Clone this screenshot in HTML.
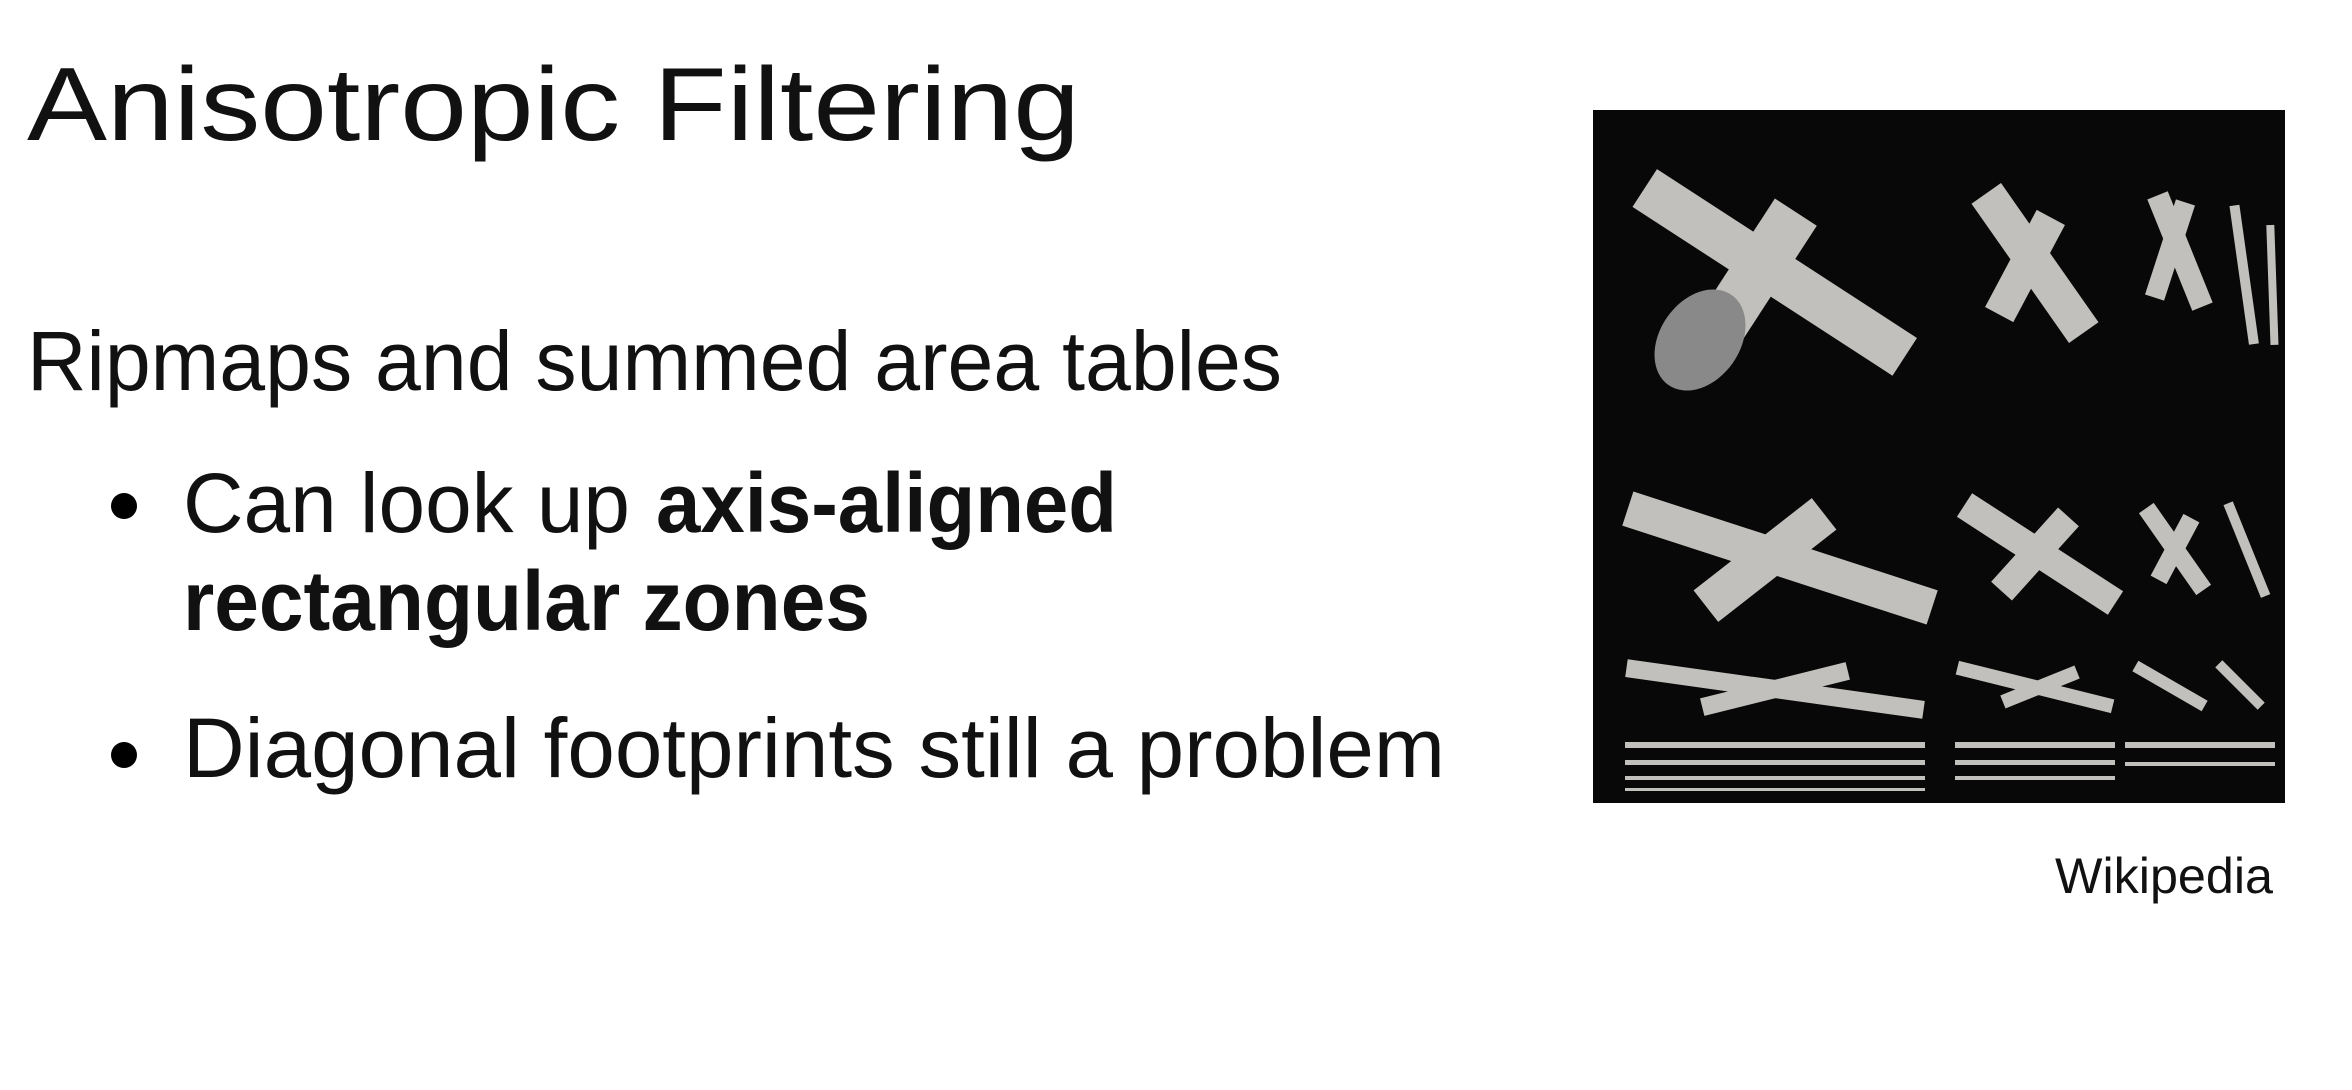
<!DOCTYPE html>
<html><head><meta charset="utf-8"><style>
html,body{margin:0;padding:0;background:#fff;}
svg{display:block;}
text{font-family:"Liberation Sans",sans-serif;fill:#111;}
</style></head><body>
<svg width="2352" height="1090" viewBox="0 0 2352 1090">
<text x="27" y="140" font-size="104" textLength="1053" lengthAdjust="spacingAndGlyphs">Anisotropic Filtering</text>
<text x="27" y="390" font-size="84" textLength="1255" lengthAdjust="spacingAndGlyphs">Ripmaps and summed area tables</text>
<circle cx="124" cy="506" r="13" fill="#000"/>
<text x="183" y="532" font-size="84" textLength="447" lengthAdjust="spacingAndGlyphs">Can look up</text>
<text x="656" y="532" font-size="84" font-weight="bold" textLength="461" lengthAdjust="spacingAndGlyphs">axis-aligned</text>
<text x="183" y="630" font-size="84" font-weight="bold" textLength="687" lengthAdjust="spacingAndGlyphs">rectangular zones</text>
<circle cx="124" cy="755" r="13" fill="#000"/>
<text x="183" y="777" font-size="84" textLength="1262" lengthAdjust="spacingAndGlyphs">Diagonal footprints still a problem</text>
<g>
<rect x="1593" y="110" width="692" height="693" fill="#080808"/>
<g fill="#d8d6d2" opacity="0.9">
<rect x="1620" y="250" width="310" height="45" transform="rotate(33 1775 272)"/>
<rect x="1680" y="250" width="150" height="50" transform="rotate(-57 1755 275)"/>
<ellipse cx="1700" cy="340" rx="40" ry="55" transform="rotate(35 1700 340)" fill="#999"/>
<rect x="1950" y="245" width="170" height="36" transform="rotate(55 2035 263)"/>
<rect x="1970" y="250" width="110" height="32" transform="rotate(-62 2025 266)"/>
<rect x="2120" y="240" width="120" height="22" transform="rotate(68 2180 251)"/>
<rect x="2120" y="240" width="100" height="20" transform="rotate(-72 2170 250)"/>
<rect x="2200" y="240" width="140" height="10" transform="rotate(82 2240 245)"/>
<rect x="2250" y="240" width="120" height="8" transform="rotate(88 2270 245)"/>
<rect x="1620" y="540" width="320" height="36" transform="rotate(18 1780 558)"/>
<rect x="1690" y="540" width="150" height="40" transform="rotate(-38 1765 560)"/>
<rect x="1950" y="540" width="180" height="28" transform="rotate(33 2040 554)"/>
<rect x="1985" y="540" width="100" height="28" transform="rotate(-48 2035 554)"/>
<rect x="2125" y="540" width="100" height="18" transform="rotate(55 2175 549)"/>
<rect x="2140" y="540" width="70" height="18" transform="rotate(-62 2175 549)"/>
<rect x="2200" y="540" width="100" height="10" transform="rotate(68 2245 545)"/>
<rect x="1625" y="680" width="300" height="18" transform="rotate(8 1775 689)"/>
<rect x="1700" y="680" width="150" height="18" transform="rotate(-14 1775 689)"/>
<rect x="1955" y="680" width="160" height="14" transform="rotate(14 2035 687)"/>
<rect x="2000" y="680" width="80" height="14" transform="rotate(-22 2040 687)"/>
<rect x="2130" y="680" width="80" height="12" transform="rotate(30 2170 686)"/>
<rect x="2210" y="680" width="60" height="10" transform="rotate(45 2240 685)"/>
<rect x="1625" y="742" width="300" height="6"/>
<rect x="1625" y="760" width="300" height="5"/>
<rect x="1625" y="776" width="300" height="4"/>
<rect x="1625" y="788" width="300" height="3"/>
<rect x="1955" y="742" width="160" height="6"/>
<rect x="1955" y="760" width="160" height="5"/>
<rect x="1955" y="776" width="160" height="4"/>
<rect x="2125" y="742" width="150" height="6"/>
<rect x="2125" y="762" width="150" height="4"/>
</g>
</g>
<text x="2055" y="893" font-size="50" textLength="218" lengthAdjust="spacingAndGlyphs">Wikipedia</text>
</svg>
</body></html>
